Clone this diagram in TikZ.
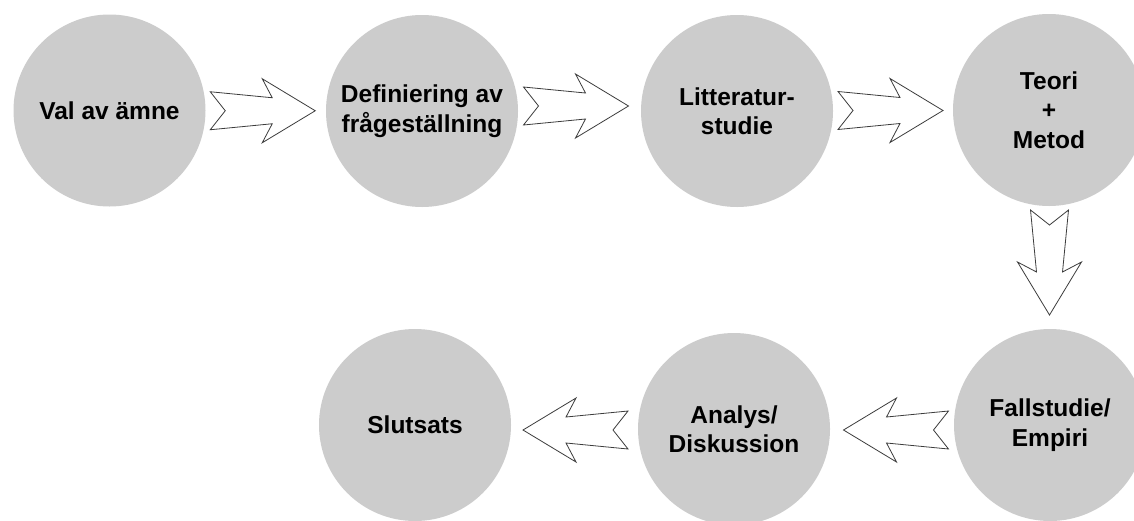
\documentclass[tikz,border=0pt]{standalone}
\usepackage{fontspec}
\setmainfont{Liberation Sans}
\usetikzlibrary{calc}
\definecolor{stagefill}{RGB}{204,204,204}
\definecolor{arrowedge}{RGB}{60,60,60}
\tikzset{
  stage/.style={circle, fill=stagefill, minimum size=192pt, inner sep=0pt,
    outer sep=0pt, align=center, text=black,
    font=\bfseries\fontsize{24.5}{29.5}\selectfont},
  % hollow block arrow with notched tail, pointing along +x, centred on the origin
  flowarrow/.pic={
    \draw[draw=arrowedge, fill=white, line width=0.8pt, line join=miter]
      (-52.5,-19) -- (9.5,-13) -- (-0.5,-32) -- (52.5,0) -- (-0.5,32)
      -- (9.5,13) -- (-52.5,19) -- (-37.5,0) -- cycle;
  }
}
\begin{document}
\begin{tikzpicture}[x=1pt,y=-1pt]
\clip (0,0) rectangle (1134,520);
\fill[white] (0,0) rectangle (1134,520);

% top row
\node[stage] (val)  at (109.5,110.5) {Val av ämne};
\node[stage] (def)  at (422,111)     {Definiering av\\frågeställning};
\node[stage] (lit)  at (737,111)     {Litteratur-\\studie};
\node[stage] (teo)  at (1049,110)    {Teori\\+\\Metod};

% bottom row
\node[stage] (fall) at (1050,425)    {Fallstudie/\\Empiri};
\node[stage] (ana)  at (734,429)     {Analys/\\Diskussion};
\node[stage] (slut) at (415,425)     {Slutsats};

% arrows between the stages
\path ($(val)!0.5!(def)+(-3,0)$)    pic {flowarrow};
\path ($(def)!0.5!(lit)+(-3.5,-5)$) pic {flowarrow};
\path ($(lit)!0.5!(teo)+(-2.5,0)$)  pic {flowarrow};
\path ($(teo)!0.5!(fall)+(0,-5)$)   pic[rotate=-90] {flowarrow};
\path ($(fall)!0.5!(ana)+(4,3)$)    pic[rotate=180] {flowarrow};
\path ($(ana)!0.5!(slut)+(1,3)$)    pic[rotate=180] {flowarrow};
\end{tikzpicture}
\end{document}
